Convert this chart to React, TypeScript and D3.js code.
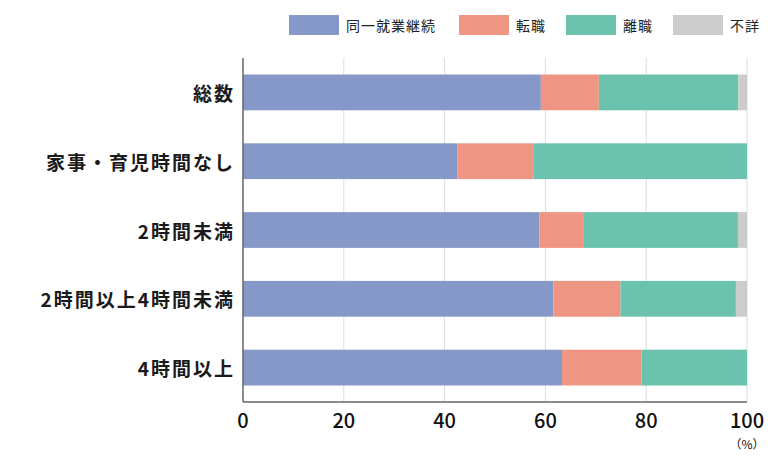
import React from "react";
import * as d3 from "d3";

const categories = ["総数", "家事・育児時間なし", "2時間未満", "2時間以上4時間未満", "4時間以上"];
const seriesNames = ["同一就業継続", "転職", "離職", "不詳"];
const sameJob = [59.1, 42.5, 58.8, 61.6, 63.3];
const jobChange = [11.5, 15.2, 8.7, 13.3, 15.8];
const quit = [27.7, 42.3, 30.7, 22.9, 20.9];
const unknown = [1.7, 0, 1.8, 2.2, 0];
const colors = ["#8598C7", "#EF9583", "#6BC3AE", "#CCCCCC"];
const xTicks = [0, 20, 40, 60, 80, 100];

const W = 783, H = 461;
const left = 243, right = 747, top = 58, bottom = 402;
const FONT = "'Noto Sans CJK JP', 'Noto Sans', sans-serif";

export default function App() {
  const x = d3.scaleLinear().domain([0, 100]).range([left, right]);
  const y = d3.scaleBand().domain(categories).range([top, bottom]).paddingInner(0.48).paddingOuter(0.24);
  const rows = categories.map((c, i) => ({ cat: c, v: [sameJob[i], jobChange[i], quit[i], unknown[i]] }));
  const stack = rows.map((r) => {
    let acc = 0;
    return r.v.map((v, k) => {
      const s = { x0: acc, x1: Math.min(100, acc + v), k };
      acc += v;
      return s;
    });
  });
  const legendX = [289, 459, 566, 673];
  return (
    <svg width={W} height={H} style={{ position: "absolute", left: 0, top: 0 }} fontFamily={FONT}>
      <rect width={W} height={H} fill="#fff" />
      {xTicks.slice(1).map((t) => (
        <line key={t} x1={x(t)} x2={x(t)} y1={top} y2={bottom} stroke="#DDDDDD" strokeWidth={1} />
      ))}
      {rows.map((r, i) => (
        <g key={r.cat}>
          {stack[i].map((s) =>
            s.x1 > s.x0 ? (
              <rect key={s.k} x={x(s.x0)} y={y(r.cat)!} width={x(s.x1) - x(s.x0)} height={y.bandwidth()} fill={colors[s.k]} />
            ) : null
          )}
          <text x={235} y={y(r.cat)! + y.bandwidth() / 2} textAnchor="end" dominantBaseline="central" fontSize={19} fontWeight={600} fill="#1a1a1a" letterSpacing={2}>
            {r.cat}
          </text>
        </g>
      ))}
      <line x1={left} x2={left} y1={top} y2={bottom} stroke="#666" strokeWidth={1.5} />
      <line x1={left} x2={right} y1={bottom} y2={bottom} stroke="#666" strokeWidth={1.5} />
      {xTicks.map((t) => (
        <text key={t} x={x(t)} y={419} textAnchor="middle" dominantBaseline="central" fontSize={20} fontWeight={500} fill="#111">
          {t}
        </text>
      ))}
      <text x={x(100)} y={443} textAnchor="middle" dominantBaseline="central" fontSize={12} fill="#111">（%）</text>
      {seriesNames.map((n, k) => (
        <g key={n}>
          <rect x={legendX[k]} y={15} width={50} height={20} fill={colors[k]} />
          <text x={legendX[k] + 57} y={25} dominantBaseline="central" fontSize={14} fill="#222" letterSpacing={1}>
            {n}
          </text>
        </g>
      ))}
    </svg>
  );
}
